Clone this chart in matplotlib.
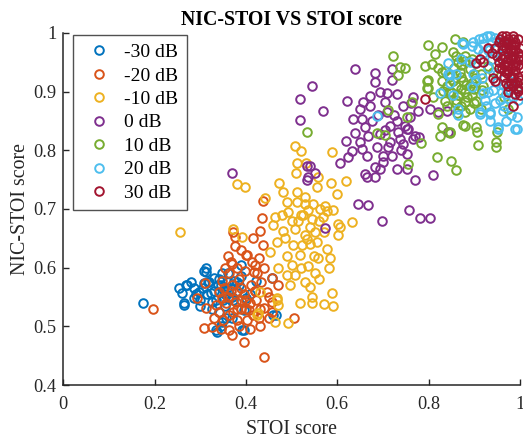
#!/usr/bin/env python3
import matplotlib
matplotlib.use('Agg')
import matplotlib.pyplot as plt

plt.rcParams['font.family'] = ['Liberation Serif', 'DejaVu Serif']

labels = ['-30 dB', '-20 dB', '-10 dB', '0 dB', '10 dB', '20 dB', '30 dB']
colors = ['#0072BD', '#D95319', '#EDB120', '#7E2F8E', '#77AC30', '#4DBEEE', '#A2142F']

# -30 dB
m30_x = [0.174, 0.253, 0.270, 0.264, 0.312, 0.308, 0.330, 0.347, 0.389, 0.268, 0.286, 0.259,
         0.264, 0.286, 0.308, 0.323, 0.325, 0.341, 0.347, 0.334, 0.358, 0.374, 0.380, 0.400,
         0.391, 0.466, 0.422, 0.297, 0.363, 0.396, 0.369, 0.345, 0.336, 0.356, 0.396, 0.457,
         0.460, 0.312, 0.338, 0.352, 0.372, 0.318, 0.385, 0.410, 0.300,
         0.330, 0.345, 0.355, 0.360, 0.350, 0.320, 0.315, 0.305, 0.335, 0.370, 0.380, 0.390,
         0.340, 0.325, 0.355, 0.280, 0.290, 0.300, 0.360]
m30_y = [0.539, 0.565, 0.570, 0.537, 0.600, 0.595, 0.583, 0.590, 0.604, 0.570, 0.566, 0.556,
         0.539, 0.549, 0.573, 0.556, 0.541, 0.524, 0.507, 0.493, 0.566, 0.578, 0.561, 0.549,
         0.493, 0.519, 0.578, 0.558, 0.549, 0.527, 0.515, 0.500, 0.490, 0.515, 0.493, 0.583,
         0.520, 0.592, 0.570, 0.560, 0.545, 0.575, 0.570, 0.555, 0.545,
         0.560, 0.570, 0.555, 0.575, 0.545, 0.575, 0.555, 0.565, 0.545, 0.550, 0.575, 0.585,
         0.580, 0.530, 0.535, 0.575, 0.555, 0.535, 0.590]

# -20 dB
m20_x = [0.369, 0.400, 0.429, 0.363, 0.347, 0.418, 0.457, 0.292, 0.341, 0.367, 0.389, 0.411,
         0.433, 0.446, 0.312, 0.334, 0.356, 0.378, 0.400, 0.422, 0.440, 0.457, 0.363, 0.380,
         0.402, 0.429, 0.308, 0.325, 0.363, 0.369, 0.396, 0.440, 0.505, 0.347, 0.407, 0.451,
         0.196, 0.310, 0.367, 0.372, 0.376, 0.402, 0.437, 0.435, 0.431, 0.376, 0.416, 0.437,
         0.413, 0.424, 0.457, 0.390, 0.352, 0.385, 0.420, 0.398, 0.372,
         0.380, 0.390, 0.400, 0.410, 0.395, 0.380, 0.370, 0.360, 0.420, 0.430, 0.415, 0.385,
         0.350, 0.340, 0.330, 0.450, 0.470, 0.380, 0.390, 0.360, 0.420, 0.440, 0.355, 0.345,
         0.410, 0.430]
m20_y = [0.607, 0.621, 0.616, 0.590, 0.578, 0.592, 0.583, 0.548, 0.558, 0.561, 0.566, 0.570,
         0.575, 0.558, 0.531, 0.536, 0.539, 0.541, 0.544, 0.544, 0.532, 0.541, 0.519, 0.510,
         0.510, 0.515, 0.497, 0.498, 0.493, 0.485, 0.473, 0.447, 0.515, 0.549, 0.527, 0.515,
         0.529, 0.573, 0.609, 0.660, 0.636, 0.622, 0.713, 0.685, 0.662, 0.653, 0.651, 0.639,
         0.610, 0.591, 0.525, 0.530, 0.565, 0.580, 0.560, 0.595, 0.525,
         0.530, 0.545, 0.530, 0.540, 0.555, 0.560, 0.570, 0.550, 0.560, 0.530, 0.520, 0.500,
         0.510, 0.525, 0.515, 0.550, 0.570, 0.600, 0.630, 0.620, 0.605, 0.600, 0.600, 0.495,
         0.495, 0.500]

# -10 dB
m10_x = [0.507, 0.520, 0.511, 0.509, 0.532, 0.588, 0.380, 0.398, 0.472, 0.481, 0.511, 0.558,
         0.555, 0.586, 0.620, 0.600, 0.490, 0.441, 0.511, 0.529, 0.547, 0.493, 0.536, 0.578,
         0.591, 0.464, 0.460, 0.514, 0.544, 0.569, 0.632, 0.606, 0.481, 0.486, 0.507, 0.529,
         0.534, 0.552, 0.555, 0.372, 0.391, 0.453, 0.467, 0.503, 0.523, 0.518, 0.558, 0.577,
         0.584, 0.500, 0.507, 0.536, 0.551, 0.582, 0.490, 0.497, 0.541, 0.544, 0.588, 0.518,
         0.544, 0.571, 0.591, 0.493, 0.464, 0.431, 0.427, 0.467, 0.256, 0.468, 0.470, 0.424,
         0.602, 0.602, 0.562, 0.573, 0.525, 0.540,
         0.520, 0.530, 0.540, 0.560, 0.570, 0.500, 0.480, 0.550, 0.520, 0.490, 0.470, 0.560,
         0.530]
m10_y = [0.807, 0.798, 0.779, 0.762, 0.779, 0.797, 0.742, 0.738, 0.745, 0.728, 0.728, 0.754,
         0.738, 0.745, 0.747, 0.725, 0.711, 0.718, 0.711, 0.708, 0.709, 0.694, 0.699, 0.696,
         0.699, 0.687, 0.673, 0.680, 0.682, 0.687, 0.677, 0.670, 0.662, 0.651, 0.665, 0.656,
         0.648, 0.660, 0.643, 0.665, 0.653, 0.626, 0.643, 0.639, 0.639, 0.622, 0.617, 0.631,
         0.617, 0.605, 0.588, 0.602, 0.591, 0.600, 0.588, 0.571, 0.567, 0.550, 0.556, 0.540,
         0.540, 0.538, 0.535, 0.506, 0.508, 0.559, 0.523, 0.549, 0.660, 0.545, 0.537, 0.520,
         0.674, 0.656, 0.700, 0.705, 0.690, 0.640,
         0.690, 0.720, 0.670, 0.680, 0.660, 0.680, 0.690, 0.620, 0.600, 0.620, 0.600, 0.580,
         0.575]

# 0 dB
m0_x = [0.639, 0.682, 0.682, 0.719, 0.719, 0.545, 0.518, 0.569, 0.518, 0.621, 0.672, 0.694,
        0.709, 0.731, 0.656, 0.650, 0.672, 0.704, 0.766, 0.744, 0.635, 0.654, 0.676, 0.709,
        0.731, 0.759, 0.777, 0.715, 0.748, 0.639, 0.667, 0.694, 0.733, 0.755, 0.619, 0.650,
        0.715, 0.737, 0.766, 0.632, 0.654, 0.687, 0.711, 0.744, 0.623, 0.665, 0.700, 0.752,
        0.606, 0.682, 0.694, 0.731, 0.660, 0.682, 0.770, 0.810, 0.540, 0.536, 0.752, 0.665,
        0.645, 0.667, 0.698, 0.757, 0.781, 0.804, 0.573, 0.843, 0.840, 0.370, 0.534, 0.552,
        0.534, 0.804, 0.821, 0.752, 0.770, 0.780, 0.762,
        0.690, 0.705, 0.725, 0.740, 0.660, 0.700, 0.720]
m0_y = [0.938, 0.932, 0.916, 0.938, 0.919, 0.909, 0.887, 0.867, 0.851, 0.884, 0.892, 0.899,
        0.897, 0.896, 0.882, 0.870, 0.875, 0.882, 0.891, 0.875, 0.853, 0.853, 0.850, 0.865,
        0.850, 0.856, 0.867, 0.841, 0.841, 0.829, 0.824, 0.827, 0.831, 0.836, 0.815, 0.814,
        0.814, 0.819, 0.819, 0.798, 0.802, 0.805, 0.805, 0.810, 0.788, 0.790, 0.790, 0.793,
        0.779, 0.771, 0.768, 0.768, 0.759, 0.754, 0.749, 0.757, 0.773, 0.754, 0.768, 0.754,
        0.709, 0.706, 0.680, 0.699, 0.685, 0.684, 0.667, 0.831, 0.867, 0.762, 0.773, 0.762,
        0.750, 0.870, 0.865, 0.836, 0.824, 0.822, 0.880,
        0.860, 0.835, 0.860, 0.800, 0.840, 0.780, 0.790]

# 10 dB
p10_x = [0.799, 0.829, 0.814, 0.858, 0.875, 0.792, 0.807, 0.835, 0.853, 0.865, 0.879, 0.869,
         0.891, 0.829, 0.853, 0.875, 0.901, 0.799, 0.799, 0.832, 0.865, 0.895, 0.883, 0.916,
         0.835, 0.879, 0.905, 0.862, 0.879, 0.829, 0.847, 0.905, 0.907, 0.764, 0.752, 0.738,
         0.748, 0.930, 0.941, 0.722, 0.733, 0.533, 0.711, 0.687, 0.704, 0.784, 0.755, 0.818,
         0.849, 0.860, 0.825, 0.847, 0.875, 0.908, 0.947, 0.947, 0.949, 0.821, 0.797, 0.797,
         0.829, 0.998, 0.965, 0.975, 0.890, 0.860, 0.845, 0.870, 0.895,
         0.850, 0.860, 0.870, 0.880, 0.890, 0.860, 0.870, 0.885, 0.900, 0.840, 0.845, 0.855,
         0.870, 0.860, 0.880, 0.895, 0.900, 0.915, 0.920, 0.900, 0.915, 0.880, 0.840, 0.810,
         0.820]
p10_y = [0.979, 0.976, 0.964, 0.990, 0.984, 0.944, 0.947, 0.935, 0.968, 0.950, 0.952, 0.933,
         0.938, 0.918, 0.918, 0.918, 0.923, 0.920, 0.906, 0.901, 0.894, 0.894, 0.911, 0.903,
         0.884, 0.882, 0.884, 0.863, 0.842, 0.840, 0.831, 0.840, 0.831, 0.882, 0.856, 0.942,
         0.940, 0.944, 0.933, 0.961, 0.928, 0.831, 0.868, 0.829, 0.826, 0.812, 0.776, 0.788,
         0.781, 0.766, 0.824, 0.829, 0.843, 0.809, 0.814, 0.805, 0.831, 0.862, 0.906, 0.918,
         0.933, 0.910, 0.890, 0.870, 0.870, 0.880, 0.900, 0.905, 0.915,
         0.900, 0.910, 0.925, 0.900, 0.910, 0.885, 0.875, 0.890, 0.905, 0.910, 0.925, 0.940,
         0.945, 0.960, 0.960, 0.955, 0.930, 0.930, 0.910, 0.880, 0.870, 0.865, 0.875, 0.890,
         0.940]

# 20 dB
p20_x = [0.928, 0.945, 0.919, 0.875, 0.895, 0.908, 0.843, 0.847, 0.847, 0.825, 0.853, 0.895,
         0.919, 0.941, 0.923, 0.956, 0.974, 0.912, 0.934, 0.963, 0.993, 0.989, 0.952, 0.865,
         0.897, 0.916, 0.930, 0.949, 0.978, 0.949, 0.963, 0.901, 0.978, 0.993, 0.996, 0.687,
         0.843, 0.865, 0.912, 0.934, 0.952, 0.993, 0.873, 0.897, 0.919, 0.934, 0.960, 0.940,
         0.930, 0.950, 0.960, 0.940, 0.910, 0.920, 0.905, 0.930, 0.945, 0.965, 0.970, 0.985,
         0.960, 0.925, 0.890, 0.870, 0.860, 0.980, 0.970, 0.935]
p20_y = [0.995, 0.991, 0.981, 0.981, 0.978, 0.972, 0.949, 0.930, 0.915, 0.897, 0.894, 0.908,
         0.897, 0.903, 0.885, 0.885, 0.889, 0.865, 0.865, 0.867, 0.856, 0.836, 0.836, 0.870,
         0.930, 0.923, 0.940, 0.930, 0.918, 0.917, 0.911, 0.949, 0.911, 0.906, 0.885, 0.858,
         0.930, 0.860, 0.862, 0.862, 0.840, 0.836, 0.982, 0.984, 0.992, 0.995, 0.960, 0.955,
         0.970, 0.975, 0.985, 0.985, 0.990, 0.965, 0.920, 0.900, 0.880, 0.875, 0.895, 0.890,
         0.900, 0.875, 0.950, 0.955, 0.930, 0.860, 0.850, 0.850]

# 30 dB
p30_x = [0.975, 0.985, 0.995, 0.965, 0.980, 0.990, 0.970, 0.960, 0.975, 0.985, 0.995, 0.965,
         0.980, 0.990, 0.955, 0.970, 0.985, 0.995, 0.960, 0.975, 0.990, 0.965, 0.980, 0.995,
         0.970, 0.985, 0.995, 0.975, 0.990, 0.950, 0.945, 0.955, 0.960, 0.985, 0.970, 0.792,
         0.905, 0.912, 0.930, 0.956, 0.971, 0.941, 0.945, 0.993, 0.996, 1.000, 0.985, 0.940,
         0.920,
         0.990, 0.975, 0.960, 0.970, 0.980, 0.990, 0.965, 0.975, 0.980, 0.995, 0.985, 0.975,
         0.960, 0.990, 0.985, 0.980, 0.975, 0.965, 0.955, 0.990, 1.000, 1.000, 1.000, 1.000]
p30_y = [0.990, 0.990, 0.990, 0.985, 0.980, 0.980, 0.975, 0.970, 0.965, 0.970, 0.965, 0.960,
         0.955, 0.955, 0.950, 0.950, 0.945, 0.945, 0.940, 0.935, 0.935, 0.925, 0.925, 0.925,
         0.915, 0.910, 0.905, 0.900, 0.895, 0.960, 0.975, 0.985, 0.995, 0.995, 0.995, 0.887,
         0.949, 0.956, 0.974, 0.989, 0.932, 0.923, 0.918, 0.917, 0.901, 0.894, 0.875, 0.965,
         0.950,
         0.985, 0.985, 0.980, 0.985, 0.970, 0.970, 0.945, 0.945, 0.940, 0.955, 0.960, 0.955,
         0.955, 0.945, 0.925, 0.915, 0.910, 0.935, 0.940, 0.915, 0.975, 0.960, 0.940, 0.920]

xs = [m30_x, m20_x, m10_x, m0_x, p10_x, p20_x, p30_x]
ys = [m30_y, m20_y, m10_y, m0_y, p10_y, p20_y, p30_y]

fig = plt.figure(figsize=(5.23, 4.38), dpi=100)
ax = fig.add_axes([0.121, 0.121, 0.873, 0.804])

for x, y, c, lab in zip(xs, ys, colors, labels):
    ax.plot(x, y, linestyle='none', marker='o', markersize=6.2, mfc='none',
            mec=c, mew=1.4, label=lab, clip_on=False)

ax.set_xlim(0, 1)
ax.set_ylim(0.4, 1)
ax.set_xticks([0, 0.2, 0.4, 0.6, 0.8, 1])
ax.set_xticklabels(['0', '0.2', '0.4', '0.6', '0.8', '1'])
ax.set_yticks([0.4, 0.5, 0.6, 0.7, 0.8, 0.9, 1])
ax.set_yticklabels(['0.4', '0.5', '0.6', '0.7', '0.8', '0.9', '1'])
ax.tick_params(direction='in', length=4, width=1, labelsize=13.2, colors='#262626')
ax.tick_params(axis='x', pad=8)
ax.tick_params(axis='y', pad=5)
for s in ['top', 'right']:
    ax.spines[s].set_visible(False)
for s in ['left', 'bottom']:
    ax.spines[s].set_linewidth(1.1)
    ax.spines[s].set_color('#262626')

ax.set_xlabel('STOI score', fontsize=14.3, color='#262626', labelpad=5)
ax.set_ylabel('NIC-STOI score', fontsize=14.3, color='#262626', labelpad=2)
ax.set_title('NIC-STOI VS STOI score', fontsize=14.3, fontweight='bold', pad=6)

leg = ax.legend(loc='upper left', bbox_to_anchor=(0.022, 0.993), borderaxespad=0,
                fontsize=14, frameon=True, fancybox=False, edgecolor='#262626',
                borderpad=0.42, labelspacing=0.3, handletextpad=0.45, handlelength=1.75)
leg.get_frame().set_linewidth(1.0)

fig.savefig('out.png', dpi=100)
plt.close()
